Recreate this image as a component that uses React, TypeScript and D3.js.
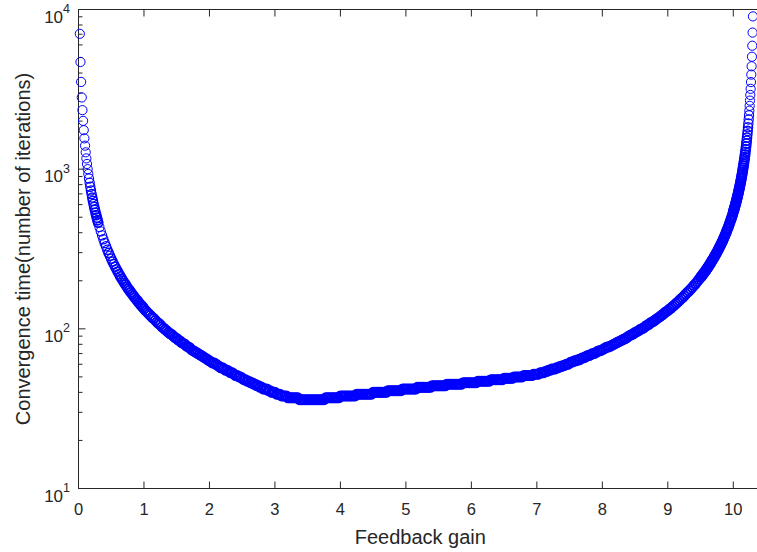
import React from "react";
import * as d3 from "d3";

// Feedback gain (x) and convergence time in iterations (y)
const feedbackGain = [
  0.02, 0.03, 0.04, 0.05, 0.06, 0.07, 0.08, 0.09, 0.10, 0.11, 0.12, 0.13, 0.14, 0.15, 0.16, 0.17, 0.18, 0.19, 0.20, 0.21, 0.22, 0.23, 0.24, 0.25, 0.26, 0.27, 0.28, 0.29, 0.30,
  0.32, 0.34, 0.36, 0.38, 0.40, 0.42, 0.44, 0.46, 0.48, 0.50, 0.52, 0.54, 0.56, 0.58, 0.60, 0.62, 0.64, 0.66, 0.68, 0.70, 0.72, 0.74, 0.76, 0.78, 0.80, 0.82, 0.84, 0.86, 0.88, 0.90, 0.92, 0.94, 0.96, 0.98, 1.00,
  1.025, 1.05, 1.075, 1.1, 1.125, 1.15, 1.175, 1.2, 1.225, 1.25, 1.275, 1.3, 1.325, 1.35, 1.375, 1.4, 1.425, 1.45, 1.475, 1.5, 1.525, 1.55, 1.575, 1.6, 1.625, 1.65, 1.675, 1.7, 1.725, 1.75, 1.775, 1.8, 1.825, 1.85, 1.875, 1.9, 1.925, 1.95, 1.975, 2,
  2.025, 2.05, 2.075, 2.1, 2.125, 2.15, 2.175, 2.2, 2.225, 2.25, 2.275, 2.3, 2.325, 2.35, 2.375, 2.4, 2.425, 2.45, 2.475, 2.5, 2.525, 2.55, 2.575, 2.6, 2.625, 2.65, 2.675, 2.7, 2.725, 2.75, 2.775, 2.8, 2.825, 2.85, 2.875, 2.9, 2.925, 2.95, 2.975, 3,
  3.025, 3.05, 3.075, 3.1, 3.125, 3.15, 3.175, 3.2, 3.225, 3.25, 3.275, 3.3,
  3.325, 3.35, 3.375, 3.4, 3.425, 3.45, 3.475, 3.5, 3.525, 3.55, 3.575, 3.6, 3.625, 3.65, 3.675, 3.7, 3.725, 3.75, 3.775, 3.8, 3.825, 3.85, 3.875, 3.9, 3.925, 3.95, 3.975, 4,
  4.025, 4.05, 4.075, 4.1, 4.125, 4.15, 4.175, 4.2, 4.225, 4.25, 4.275, 4.3, 4.325, 4.35, 4.375, 4.4, 4.425, 4.45, 4.475, 4.5, 4.525, 4.55, 4.575, 4.6, 4.625, 4.65, 4.675, 4.7, 4.725, 4.75, 4.775, 4.8, 4.825, 4.85, 4.875, 4.9, 4.925, 4.95, 4.975, 5,
  5.025, 5.05, 5.075, 5.1, 5.125, 5.15, 5.175, 5.2, 5.225, 5.25, 5.275, 5.3, 5.325, 5.35, 5.375, 5.4, 5.425, 5.45, 5.475, 5.5, 5.525, 5.55, 5.575, 5.6, 5.625, 5.65, 5.675, 5.7, 5.725, 5.75, 5.775, 5.8, 5.825, 5.85, 5.875, 5.9, 5.925, 5.95, 5.975, 6,
  6.025, 6.05, 6.075, 6.1, 6.125, 6.15, 6.175, 6.2, 6.225, 6.25, 6.275, 6.3, 6.325, 6.35, 6.375, 6.4, 6.425, 6.45, 6.475, 6.5, 6.525, 6.55, 6.575, 6.6, 6.625, 6.65, 6.675, 6.7, 6.725, 6.75, 6.775, 6.8, 6.825, 6.85, 6.875, 6.9, 6.925, 6.95, 6.975, 7,
  7.025, 7.05, 7.075, 7.1, 7.125, 7.15, 7.175, 7.2, 7.225, 7.25, 7.275, 7.3, 7.325, 7.35, 7.375, 7.4, 7.425, 7.45, 7.475, 7.5, 7.525, 7.55, 7.575, 7.6, 7.625, 7.65, 7.675, 7.7, 7.725, 7.75, 7.775, 7.8, 7.825, 7.85, 7.875, 7.9, 7.925, 7.95, 7.975, 8,
  8.025, 8.05, 8.075, 8.1, 8.125, 8.15, 8.175, 8.2, 8.225, 8.25, 8.275, 8.3, 8.325, 8.35, 8.375, 8.4, 8.425, 8.45, 8.475, 8.5, 8.525, 8.55, 8.575, 8.6, 8.625, 8.65, 8.675, 8.7, 8.725, 8.75, 8.775, 8.8, 8.825, 8.85, 8.875, 8.9, 8.925, 8.95, 8.975, 9,
  9.025, 9.05, 9.075, 9.1, 9.125, 9.15, 9.175, 9.2, 9.225, 9.25, 9.275, 9.3, 9.325, 9.35, 9.375, 9.4, 9.425, 9.45, 9.475, 9.5,
  9.51, 9.52, 9.53, 9.54, 9.55, 9.56, 9.57, 9.58, 9.59, 9.60, 9.61, 9.62, 9.63, 9.64, 9.65, 9.66, 9.67, 9.68, 9.69, 9.70, 9.71, 9.72, 9.73, 9.74, 9.75, 9.76, 9.77, 9.78, 9.79, 9.80, 9.81, 9.82, 9.83, 9.84, 9.85, 9.86, 9.87, 9.88, 9.89, 9.90, 9.91, 9.92, 9.93, 9.94, 9.95, 9.96, 9.97, 9.98, 9.99, 10.00,
  10.005, 10.01, 10.015, 10.02, 10.025, 10.03, 10.035, 10.04, 10.045, 10.05, 10.055, 10.06, 10.065, 10.07, 10.075, 10.08, 10.085, 10.09, 10.095, 10.10,
  10.105, 10.11, 10.115, 10.12, 10.125, 10.13, 10.135, 10.14, 10.145, 10.15, 10.155, 10.16, 10.165, 10.17, 10.175, 10.18, 10.185, 10.19, 10.195, 10.20,
  10.205, 10.21, 10.215, 10.22, 10.225, 10.23, 10.235, 10.24, 10.245, 10.25, 10.255, 10.26, 10.265, 10.27, 10.275, 10.28, 10.285, 10.29, 10.295, 10.30,
];

const iterations = [
  7043, 4693, 3518, 2813, 2343, 2007, 1755, 1560, 1403, 1275, 1168, 1078, 1000, 933, 874, 822, 776, 735, 698, 664, 634, 606, 580, 557, 535, 515, 497, 479, 463,
  434, 408, 385, 364, 345, 329, 313, 299, 287, 275, 264, 254, 245, 236, 228, 220, 213, 206, 200, 194, 189, 183, 178, 174, 169, 165, 161, 157, 153, 150, 146, 143, 140, 137, 134,
  130, 127, 124, 121, 118, 116, 113, 110, 108, 106, 103, 101, 99, 97, 95, 93, 92, 90, 88, 87, 85, 84, 82, 81, 80, 78, 77, 76, 74, 73, 72, 71, 70, 69, 68, 67, 66, 65, 64, 63,
  62, 61, 61, 60, 59, 58, 57, 57, 56, 55, 55, 54, 53, 53, 52, 51, 51, 50, 50, 49, 48, 48, 47, 47, 46, 46, 45, 45, 44, 44, 43, 43, 42, 42, 42, 41, 41, 40, 40, 40,
  39, 39, 39, 38, 38, 38, 38, 37, 37, 37, 37, 37,
  37, 37, 36, 36, 36, 36, 36, 36, 36, 36, 36, 36, 36, 36, 36, 36, 36, 36, 37, 37, 37, 37, 37, 37, 37, 37, 37, 38,
  38, 38, 38, 38, 38, 38, 38, 38, 38, 39, 39, 39, 39, 39, 39, 39, 39, 39, 39, 40, 40, 40, 40, 40, 40, 40, 40, 40, 41, 41, 41, 41, 41, 41, 41, 41, 41, 42, 42, 42,
  42, 42, 42, 42, 42, 42, 43, 43, 43, 43, 43, 43, 43, 43, 43, 44, 44, 44, 44, 44, 44, 44, 44, 44, 45, 45, 45, 45, 45, 45, 45, 45, 45, 45, 46, 46, 46, 46, 46, 46,
  46, 46, 46, 47, 47, 47, 47, 47, 47, 47, 47, 48, 48, 48, 48, 48, 48, 48, 48, 49, 49, 49, 49, 49, 49, 50, 50, 50, 50, 50, 50, 51, 51, 51, 51, 51, 51, 52, 52, 52,
  52, 53, 53, 53, 54, 54, 55, 55, 56, 56, 56, 57, 57, 58, 58, 59, 59, 60, 60, 61, 62, 62, 63, 63, 64, 64, 65, 66, 66, 67, 68, 68, 69, 70, 70, 71, 72, 73, 73, 74,
  75, 76, 77, 77, 78, 79, 80, 81, 82, 83, 84, 85, 86, 87, 88, 90, 91, 92, 93, 95, 96, 97, 99, 100, 101, 103, 105, 106, 108, 110, 111, 113, 115, 117, 119, 121, 123, 126, 128, 130,
  133, 135, 138, 141, 144, 147, 150, 154, 157, 161, 165, 169, 173, 177, 182, 187, 192, 198, 204, 210,
  212, 215, 218, 221, 223, 226, 229, 232, 236, 239, 242, 246, 249, 253, 257, 261, 265, 269, 273, 277, 282, 287, 292, 297, 302, 307, 313, 319, 325, 331, 337, 344, 351, 358, 366, 374, 382, 391, 400, 410, 420, 430, 441, 453, 465, 478, 491, 506, 521, 538,
  548, 557, 566, 575, 585, 595, 606, 616, 628, 639, 652, 664, 677, 691, 705, 720, 735, 751, 768, 785,
  804, 823, 843, 864, 887, 910, 935, 961, 989, 1018, 1049, 1082, 1117, 1154, 1194, 1237, 1284, 1333, 1387, 1445,
  1509, 1578, 1654, 1737, 1830, 1933, 2048, 2177, 2324, 2493, 2688, 2915, 3185, 3510, 3909, 4410, 5059, 5931, 7167, 9053,
];

const xTickValues = [0, 1, 2, 3, 4, 5, 6, 7, 8, 9, 10];
const yTickExponents = [1, 2, 3, 4];
const xDomain = [0, 10.44];
const yDomain = [10, 10000];
const xLabel = "Feedback gain";
const yLabel = "Convergence time(number of iterations)";

const W = 757;
const H = 552;
const PLOT = { left: 78.5, top: 9.5, right: 762.1, bottom: 488.5 };
const AXIS = "#262626";
const FONT = "'Liberation Sans', Arial, Helvetica, sans-serif";

export default function App() {
  const x = d3.scaleLinear().domain(xDomain).range([PLOT.left, PLOT.right]);
  const y = d3.scaleLog().domain(yDomain).range([PLOT.bottom, PLOT.top]);
  const allYTicks = y.ticks();
  const minorY = allYTicks.filter((v) => Math.abs(Math.log10(v) - Math.round(Math.log10(v))) > 1e-6);
  const px = feedbackGain.map((g) => x(g));
  const py = iterations.map((t) => y(t));
  const points = px.map((cx, i) => {
    // spacing to neighbours in pixels, used to thicken rings where they pile into a solid band
    const dPrev = i > 0 ? Math.hypot(cx - px[i - 1], py[i] - py[i - 1]) : 99;
    const dNext = i < px.length - 1 ? Math.hypot(px[i + 1] - cx, py[i + 1] - py[i]) : 99;
    const d = Math.min(dPrev, dNext);
    const sw = Math.max(1, Math.min(1.8, 1 + (4.5 - d) / 3));
    return { cx, cy: py[i], sw };
  });
  const tickLen = 7;
  const minorLen = 4;
  const midY = (PLOT.top + PLOT.bottom) / 2;
  const midX = (PLOT.left + PLOT.right) / 2;

  return (
    <svg
      width={W}
      height={H}
      style={{ position: "absolute", left: 0, top: 0, background: "#fff" }}
      fontFamily={FONT}
    >
      <rect x={0} y={0} width={W} height={H} fill="#fff" />
      {/* axes box */}
      <g stroke={AXIS} strokeWidth={1} fill="none">
        <line x1={PLOT.left} x2={PLOT.left} y1={PLOT.top} y2={PLOT.bottom} />
        <line x1={PLOT.left} x2={PLOT.right} y1={PLOT.bottom} y2={PLOT.bottom} />
        <line x1={PLOT.left} x2={PLOT.right} y1={PLOT.top} y2={PLOT.top} />
        {xTickValues.map((t) => (
          <g key={"xt" + t}>
            <line x1={x(t)} x2={x(t)} y1={PLOT.bottom} y2={PLOT.bottom - tickLen} />
            <line x1={x(t)} x2={x(t)} y1={PLOT.top} y2={PLOT.top + tickLen} />
          </g>
        ))}
        {yTickExponents.map((e) => (
          <line key={"yt" + e} x1={PLOT.left} x2={PLOT.left + tickLen} y1={y(10 ** e)} y2={y(10 ** e)} />
        ))}
        {minorY.map((v, i) => (
          <line key={"ym" + i} x1={PLOT.left} x2={PLOT.left + minorLen} y1={y(v)} y2={y(v)} />
        ))}
      </g>

      {/* data markers */}
      <g fill="none" stroke="#0000ff">
        {points.map((p, i) => (
          <circle key={i} cx={p.cx} cy={p.cy} r={4.6} strokeWidth={p.sw} />
        ))}
      </g>

      {/* x tick labels */}
      <g fill={AXIS} fontSize={16.5} textAnchor="middle">
        {xTickValues.map((t) => (
          <text key={"xl" + t} x={x(t)} y={PLOT.bottom + 26.5}>
            {t}
          </text>
        ))}
      </g>

      {/* y tick labels */}
      <g fill={AXIS} textAnchor="end">
        {yTickExponents.map((e) => (
          <text key={"yl" + e} x={PLOT.left - 8.5} y={y(10 ** e) + 13} fontSize={17}>
            <tspan>10</tspan>
            <tspan dy={-9.5} fontSize={12.5}>
              {e}
            </tspan>
          </text>
        ))}
      </g>

      {/* axis labels */}
      <text x={midX} y={544} textAnchor="middle" fontSize={20} fill={AXIS}>
        {xLabel}
      </text>
      <text
        transform={`translate(30,${midY}) rotate(-90)`}
        textAnchor="middle"
        fontSize={20}
        fill={AXIS}
      >
        {yLabel}
      </text>
    </svg>
  );
}
